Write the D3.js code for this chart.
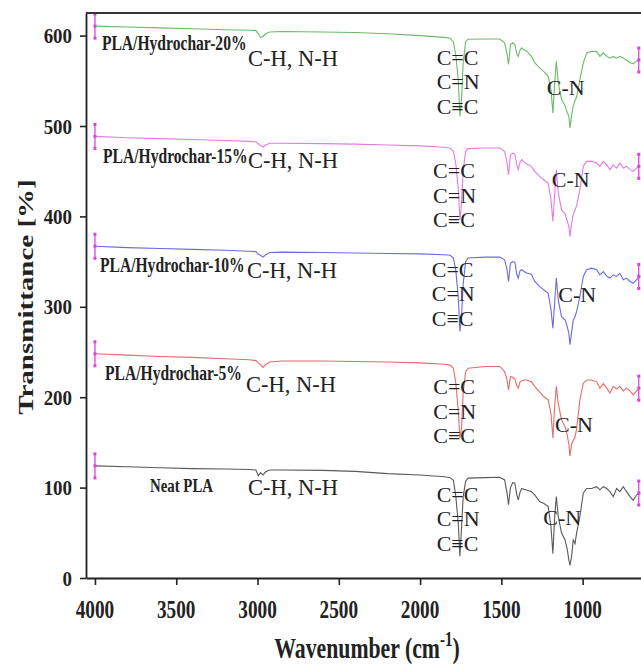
<!DOCTYPE html>
<html lang="en">

<head>
    <meta charset="UTF-8">
    <title>FTIR spectra</title>
    <script src="https://d3js.org/d3.v7.min.js"></script>
    <style>
        body { margin: 0; background: #fff; }
        svg { display: block; }
        .tick line { stroke: #222; stroke-width: 1.6; }
        .domain { stroke: #222; stroke-width: 1.8; }
        .serif { font-family: "Liberation Serif", "Times New Roman", serif; fill: #222; }
    </style>
</head>

<body>
    <div id="chart"></div>
    <script>
        // Wavenumber grid (cm-1), shared by all spectra
        const wavenumbers = [4000, 3800, 3600, 3400, 3200, 3050, 3010, 2995, 2982, 2966,
            2950, 2925, 2850, 2600, 2400, 2200, 2000, 1850, 1815, 1795,
            1780, 1765, 1755, 1745, 1735, 1720, 1705, 1600, 1510, 1480,
            1466, 1456, 1444, 1430, 1417, 1405, 1396, 1385, 1375, 1360,
            1345, 1315, 1295, 1265, 1240, 1212, 1195, 1183, 1172, 1162,
            1150, 1130, 1119, 1108, 1095, 1085, 1078, 1068, 1058, 1047,
            1037, 1017, 996, 975, 945, 914, 894, 873, 852, 832,
            812, 791, 771, 750, 730, 709, 689, 668, 645];

        // Transmittance (%, stacked offsets as plotted)
        const neatPLA = [124, 123, 122, 121, 120.5, 120, 119.5, 113, 116.5, 114,
            117.5, 119.5, 119.5, 119, 118, 115.5, 114, 112, 111, 108,
            90, 60, 24, 55, 90, 107, 110.5, 111, 111.5, 108.5,
            95, 81, 100, 105.5, 104.8, 92, 86.3, 95, 99, 98,
            97.4, 95.5, 92, 84.5, 82.7, 79, 57, 27, 68, 90,
            68, 50, 46, 42, 32, 20, 14, 24, 42, 38,
            50, 68, 94, 99, 99, 101, 97.5, 101, 99, 95.5,
            90, 99, 95.5, 101, 95.5, 90, 86, 92, 94];
        const hydrochar5 = [248, 246.5, 245, 244, 242.5, 241.5, 240.5, 238, 236, 233,
            236, 239, 240, 240, 239.5, 239, 238, 236.5, 235.5, 232,
            215, 185, 155, 165, 205, 228, 232, 234, 234, 228.4,
            220, 208, 222.8, 222, 220, 213, 210, 217, 218, 219,
            219, 217, 212, 206, 200.7, 197, 182, 155, 190, 212,
            193, 175, 171, 167.5, 158, 148, 135, 148, 152, 156,
            165, 197, 215.5, 219, 219, 217, 210, 215, 210, 204.5,
            212, 209, 212, 207, 210, 207, 202.6, 207, 210];
        const hydrochar10 = [367, 365.5, 364.5, 363.5, 362.5, 361.5, 361, 358, 357, 355,
            357.5, 360, 360.5, 360, 359.5, 359, 358.5, 357.5, 357, 354,
            340, 310, 272.7, 290, 325, 350, 354, 355, 355, 352,
            342, 328, 348, 350, 349, 336, 331.8, 340, 341, 339,
            337.3, 336, 328, 322.5, 318.8, 315, 297, 276.4, 305, 331.8,
            308, 289, 287, 285.6, 278, 271, 258, 272, 285, 289,
            295, 311.4, 333.6, 341, 342.8, 341, 335.4, 339, 334, 331.8,
            335.4, 333.6, 337, 330, 331.8, 328, 326, 330, 333.6];
        const hydrochar15 = [488.5, 487, 486, 485, 484, 483, 482.5, 480, 478.5, 477,
            479, 481, 481, 480.5, 480, 479, 478, 476.5, 475.5, 472,
            458, 430, 396.3, 415, 450, 472, 475, 475.7, 475.7, 472,
            460, 446, 468, 470, 469, 457, 451.7, 460, 462.7, 460,
            458, 455.4, 449.8, 444.3, 440.5, 437, 418.5, 394.5, 425, 451.7,
            426, 407.4, 405, 403, 395, 389, 377.8, 392, 402, 407,
            412, 429.5, 455.4, 460.9, 460.9, 459, 455.4, 460.9, 457, 451.7,
            457, 453.5, 459, 453.5, 455.4, 451.7, 449.8, 453.5, 455.4];
        const hydrochar20 = [610.5, 609.5, 608.5, 607.5, 606.5, 606, 605.5, 602, 598, 599,
            602, 604, 604.5, 604, 603.5, 602, 600, 598, 597, 593,
            578, 550, 510.7, 530, 570, 593, 596, 596.3, 596.3, 592,
            580, 568, 590, 592, 590, 580, 577, 584, 586.4, 584,
            583, 577, 570, 564.3, 560.5, 555, 540.3, 514.5, 548, 571.6,
            548, 529.2, 526, 522, 515, 510.7, 497.8, 512, 522, 528,
            532, 551.3, 569.8, 580.9, 582.5, 582.5, 577, 580.9, 577, 575,
            577, 575, 577, 575, 573, 570, 569, 572, 573];

        const seriesNames = ["Neat PLA", "PLA/Hydrochar-5%", "PLA/Hydrochar-10%", "PLA/Hydrochar-15%", "PLA/Hydrochar-20%"];
        const seriesValues = [neatPLA, hydrochar5, hydrochar10, hydrochar15, hydrochar20];
        const seriesColors = ["#5a5a5a", "#e86a6a", "#6a6ae4", "#e47ae4", "#6aba6a"];

        const xTicks = [4000, 3500, 3000, 2500, 2000, 1500, 1000];
        const yTicks = [0, 100, 200, 300, 400, 500, 600];

        const width = 641;
        const height = 664;
        const margin = { top: 13, left: 86, bottom: 86 };

        const svg = d3.select("#chart")
            .append("svg")
            .attr("width", width)
            .attr("height", height);

        // Scales (x reversed, like an IR spectrum)
        const x = d3.scaleLinear()
            .domain([4055, 620])
            .range([margin.left, margin.left + 3435 * 0.16257]);

        const y = d3.scaleLinear()
            .domain([0, 625])
            .range([height - margin.bottom, margin.top]);

        // Text helper: place and squeeze horizontally
        function label(g, text, px, py, opts) {
            const t = g.append("text")
                .attr("class", "serif")
                .attr("transform", `translate(${px},${py}) scale(${opts.sx || 1},1)` + (opts.rotate ? ` rotate(${opts.rotate})` : ""))
                .attr("text-anchor", opts.anchor || "start")
                .attr("font-size", opts.size)
                .attr("font-weight", opts.bold ? "bold" : "normal");
            t.text(text);
            return t;
        }

        // Spectra
        const line = d3.line()
            .x((d, i) => x(wavenumbers[i]))
            .y(d => y(d));

        const plot = svg.append("g");

        seriesValues.forEach((vals, k) => {
            plot.append("path")
                .datum(vals)
                .attr("fill", "none")
                .attr("stroke", seriesColors[k])
                .attr("stroke-width", 1.1)
                .attr("d", line);
        });

        // Magenta end markers at both ends of every spectrum
        const markerColor = "#e040e0";
        seriesValues.forEach(vals => {
            [[wavenumbers[0], vals[0]], [wavenumbers[wavenumbers.length - 1] + 10, vals[vals.length - 1]]].forEach(([w, v]) => {
                const cx = x(w), cy = y(v);
                plot.append("line")
                    .attr("x1", cx).attr("x2", cx)
                    .attr("y1", cy - 13).attr("y2", cy + 13)
                    .attr("stroke", markerColor)
                    .attr("stroke-width", 1.3);
                [-12, 0, 12].forEach(dy => {
                    plot.append("rect")
                        .attr("x", cx - 1.5).attr("y", cy + dy - 1.5)
                        .attr("width", 3).attr("height", 3)
                        .attr("fill", markerColor);
                });
            });
        });

        // Axes
        const xAxis = svg.append("g")
            .attr("transform", `translate(0,${height - margin.bottom})`)
            .call(d3.axisBottom(x).tickValues(xTicks).tickSize(7).tickSizeOuter(0).tickFormat(""));

        const yAxis = svg.append("g")
            .attr("transform", `translate(${margin.left},0)`)
            .call(d3.axisLeft(y).tickValues(yTicks).tickSize(6).tickSizeOuter(0).tickFormat(""));

        // Top frame line
        svg.append("line")
            .attr("x1", margin.left).attr("x2", width)
            .attr("y1", margin.top).attr("y2", margin.top)
            .attr("stroke", "#333")
            .attr("stroke-width", 1.8);

        // Tick labels
        xTicks.forEach(t => label(svg, t, x(t), 618, { size: 26, bold: true, sx: 0.74, anchor: "middle" }));
        yTicks.forEach(t => label(svg, t, 72, y(t) + 7.5, { size: 22, bold: true, sx: 0.86, anchor: "end" }));

        // Axis titles
        const xt = label(svg, "", 367, 658, { size: 29, bold: true, sx: 0.75, anchor: "middle" });
        xt.append("tspan").text("Wavenumber (cm");
        xt.append("tspan").attr("dy", -12).attr("font-size", 20).text("-1");
        xt.append("tspan").attr("dy", 12).text(")");

        label(svg, "Transmittance [%]", 33, 297, { size: 29, bold: true, sx: 0.75, anchor: "middle", rotate: -90 });

        // Series labels and band annotations (wavenumber, value positions)
        const nameAt = [[3661, 95.5], [3938, 219], [3969, 338.8], [3950, 459], [3957, 584]];
        const chAt = [[3058, 92], [3071, 206], [3065, 332], [3058, 453.5], [3058, 566]];
        const ccAt = [[1898, 84.4], [1919, 203.5], [1928, 333], [1920, 442], [1898, 567.5]];
        const cnAt = [[1242, 58.6], [1170, 162], [1150, 305.6], [1190, 433], [1221, 534]];

        seriesNames.forEach((name, k) => {
            label(svg, name, x(nameAt[k][0]), y(nameAt[k][1]), { size: k === 0 ? 19 : 20, bold: true, sx: 0.78 });
            label(svg, "C-H, N-H", x(chAt[k][0]), y(chAt[k][1]), { size: 22.5 });
            ["C=C", "C=N", "C\u2261C"].forEach((s, j) => {
                label(svg, s, x(ccAt[k][0]), y(ccAt[k][1]) + j * 24.5, { size: 22 });
            });
            label(svg, "C-N", x(cnAt[k][0]), y(cnAt[k][1]), { size: 22 });
        });
    </script>
</body>

</html>
